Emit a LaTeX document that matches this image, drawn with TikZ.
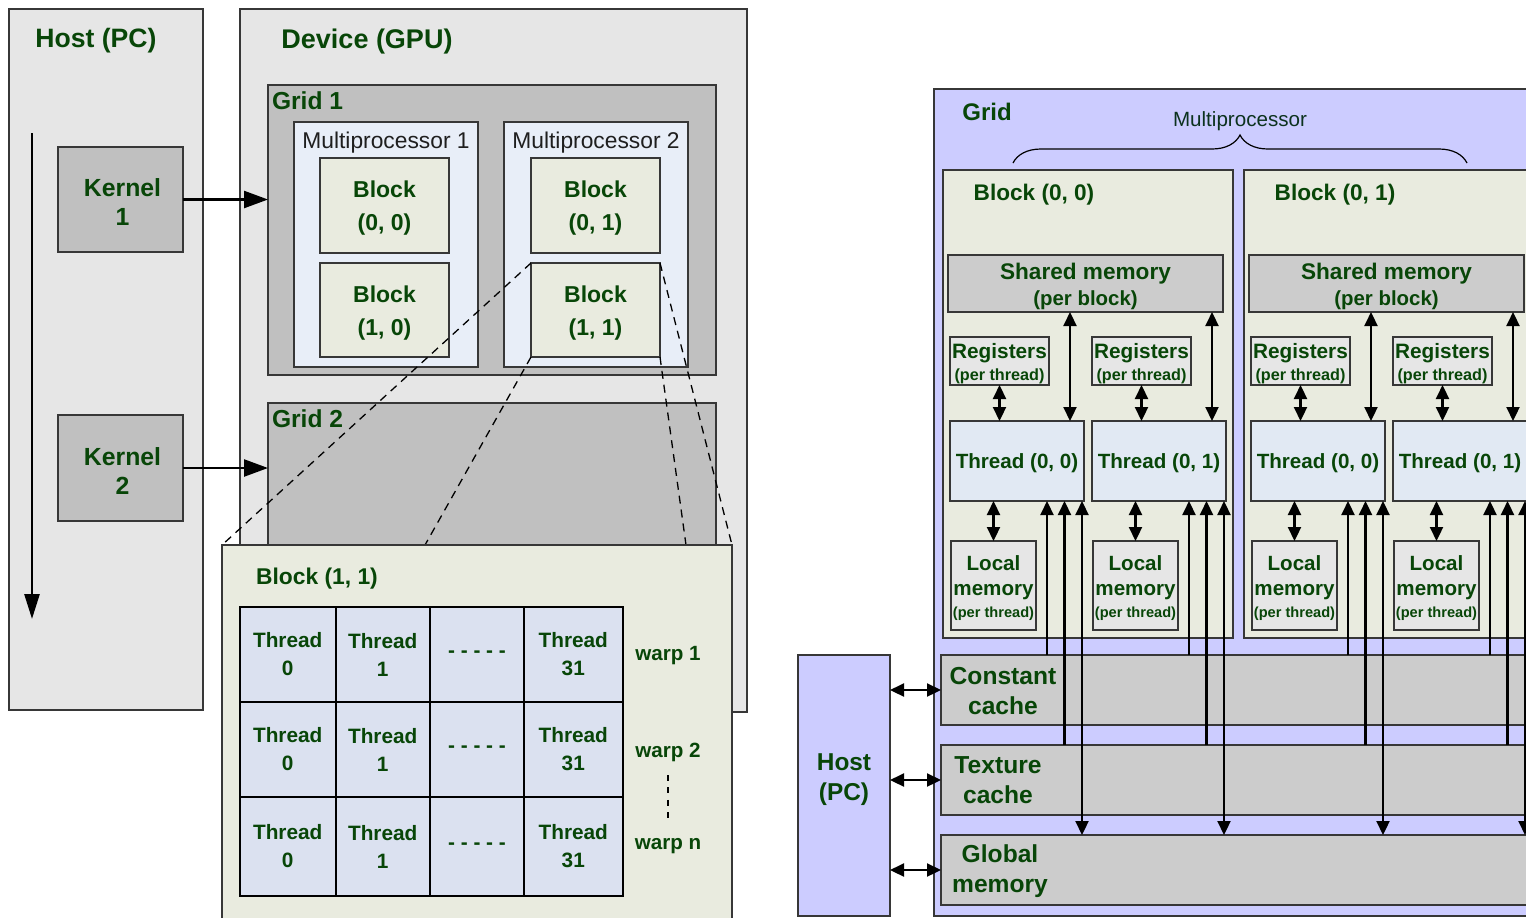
\documentclass[tikz,border=0pt]{standalone}
\usepackage{fontspec}
\setmainfont{Liberation Sans}
\usetikzlibrary{arrows.meta,fit,decorations.pathreplacing,calc}
\definecolor{tg}{RGB}{8,70,8}
\definecolor{mpg}{RGB}{12,50,30}
\definecolor{panelgray}{RGB}{230,230,230}
\definecolor{midgray}{RGB}{192,192,192}
\definecolor{mpblue}{RGB}{232,238,248}
\definecolor{beige}{RGB}{233,235,223}
\definecolor{cellblue}{RGB}{219,225,240}
\definecolor{lav}{RGB}{204,204,255}
\definecolor{memgray}{RGB}{204,204,204}
\definecolor{reggray}{RGB}{230,230,230}
\definecolor{thblue}{RGB}{225,233,243}
\definecolor{edge}{RGB}{55,55,55}
\newcommand\fsz[2]{\fontsize{#1}{#2}\selectfont}
\begin{document}
\begin{tikzpicture}[x=0.5pt,y=-0.5pt,
  box/.style={draw=edge,line width=0.8pt,inner sep=0pt,outer sep=0pt},
  t/.style={text=tg,align=center,inner sep=0pt,outer sep=0pt,yshift=-1.3pt},
  t0/.style={text=tg,align=center,inner sep=0pt,outer sep=0pt},
  cell/.style={draw=black,line width=1pt,fill=cellblue,inner sep=0pt,outer sep=0pt},
  ct/.style={t0,font=\bfseries\fsz{10.4}{14}},
  karr/.style={line width=1.2pt,-{Triangle[length=12pt,width=8.5pt]}},
  tlarr/.style={line width=1.3pt,-{Triangle[length=12.5pt,width=7.5pt]}},
  dl/.style={line width=0.65pt,dash pattern=on 4pt off 3pt},
  arr/.style={line width=1.1pt,-{Triangle[length=7pt,width=6.5pt]}},
  dbl/.style={line width=1.1pt,{Triangle[length=7pt,width=6.5pt]}-{Triangle[length=7pt,width=6.5pt]}}
]
\useasboundingbox (0,0) rectangle (1526,917);
\clip (0,0) rectangle (1526,917);
\fill[white] (0,0) rectangle (1526,917);

% ================= LEFT FIGURE =================
\node[box,fill=panelgray,fit={(9,9)(203,710)}] (hostL) {};
\node[box,fill=panelgray,fit={(240,9)(747,712)}] (dev) {};
\node[t,font=\bfseries\fsz{13.3}{16}] (hostLt) at (96,38) {Host (PC)};
\node[t,font=\bfseries\fsz{13.5}{16}] (devt) at (367,39) {Device (GPU)};

\coordinate (tlA) at (32,133);
\coordinate (tlB) at (32,619);
\draw[tlarr] (tlA) -- (tlB);

\node[box,fill=midgray,fit={(58,147)(183,252)}] (k1) {};
\node[t,font=\bfseries\fsz{12.4}{14.5},xshift=1pt] (k1t) at (k1.center) {Kernel\\1};
\node[box,fill=midgray,fit={(58,415)(183,521)}] (k2) {};
\node[t,font=\bfseries\fsz{12.4}{14.5},xshift=1pt] (k2t) at (k2.center) {Kernel\\2};

\node[box,fill=midgray,fit={(268,85)(716,375)}] (g1) {};
\node[t0,font=\bfseries\fsz{12.3}{14},anchor=west] (g1t) at (272,101) {Grid 1};
\node[box,fill=mpblue,fit={(294,122)(478,367)}] (mp1) {};
\node[box,fill=mpblue,fit={(504,122)(688,367)}] (mp2) {};
\node[font=\fsz{11.4}{13},text=black!88,inner sep=0pt,yshift=-1.3pt] (mp1t) at (386,140) {Multiprocessor 1};
\node[font=\fsz{11.4}{13},text=black!88,inner sep=0pt,yshift=-1.3pt] (mp2t) at (596,140) {Multiprocessor 2};
\foreach \nm/\xa/\ya/\xb/\yb/\lb in {b00/320/158/449/253/{(0, 0)},b10/320/263/449/357/{(1, 0)},b01/531/158/660/253/{(0, 1)},b11/531/263/660/357/{(1, 1)}}{
  \node[box,fill=beige,fit={(\xa,\ya)(\xb,\yb)}] (\nm) {};
  \node[t,font=\bfseries\fsz{11.5}{16.5}] (\nm t) at (\nm.center) {Block\\\lb};
}

\node[box,fill=midgray,fit={(268,403)(716,600)}] (g2) {};
\node[t0,font=\bfseries\fsz{12.3}{14},anchor=west] (g2t) at (272,419) {Grid 2};

\draw[karr] (k1.east) -- (k1.east -| g1.west);
\draw[karr] (k2.east) -- (k2.east -| g2.west);

\coordinate (zA) at (222,545);
\coordinate (zB) at (425,545);
\coordinate (zC) at (686,545);
\coordinate (zD) at (732,545);
\draw[dl] (b11.north west) -- (zA);
\draw[dl] (b11.south west) -- (zB);
\draw[dl] (b11.south east) -- (zC);
\draw[dl] (b11.north east) -- (zD);

\node[box,fill=beige,fit={(zA)(732,940)}] (zp) {};
\node[t,font=\bfseries\fsz{11.4}{13}] (zpt) at (317,576) {Block (1, 1)};

\foreach \r/\ya/\yb in {1/607/702,2/702/797,3/797/896}{
  \foreach \c/\xa/\xb/\txt in {1/240/335.5/{Thread\\0},2/335.5/430/{Thread\\1},3/430/524/{- - - - -},4/524/622.5/{Thread\\31}}{
    \node[cell,fit={(\xa,\ya)(\xb,\yb)}] (c\r\c) {};
    \node[ct] (c\r\c t) at (c\r\c.center) {\txt};
  }
}
\node[t,font=\bfseries\fsz{10.3}{12}] (w1) at (668,653) {warp 1};
\node[t,font=\bfseries\fsz{10.3}{12}] (w2) at (668,750) {warp 2};
\node[t,font=\bfseries\fsz{10.3}{12}] (wn) at (668,843) {warp n};
\coordinate (wdA) at (668,775);
\coordinate (wdB) at (668,819);
\draw[line width=1pt,dash pattern=on 3pt off 3.2pt] (wdA) -- (wdB);

% ================= RIGHT FIGURE =================
\node[box,fill=lav,fit={(934,89)(1560,916)}] (rg) {};
\node[t0,font=\bfseries\fsz{12}{14}] (rgt) at (987,112) {Grid};
\node[font=\fsz{10.3}{12},text=mpg,inner sep=0pt,yshift=-1.3pt] (mpt) at (1240,119) {Multiprocessor};
\coordinate (brA) at (1013,163);
\coordinate (brB) at (1467,163);
\draw[decorate,decoration={brace,amplitude=14pt},line width=0.6pt] (brA) -- (brB);

\node[box,fill=lav,fit={(798,655)(890,916)}] (hostR) {};
\node[t,font=\bfseries\fsz{12.2}{15}] (hostRt) at (844,777) {Host\\(PC)};

\node[box,fill=memgray,fit={(941,655)(1560,725)}] (CC) {};
\node[t0,font=\bfseries\fsz{12.3}{15}] (CCt) at (1003,691) {Constant\\cache};
\node[box,fill=memgray,fit={(941,745)(1560,815)}] (TC) {};
\node[t0,font=\bfseries\fsz{12.3}{15}] (TCt) at (998,780) {Texture\\cache};
\node[box,fill=memgray,fit={(941,835)(1560,905)}] (GM) {};
\node[t,font=\bfseries\fsz{12.3}{15}] (GMt) at (1000,869) {Global\\memory};

\draw[dbl] (CC.west -| hostR.east) -- (CC.west);
\draw[dbl] (TC.west -| hostR.east) -- (TC.west);
\draw[dbl] (GM.west -| hostR.east) -- (GM.west);

\foreach \i/\dx/\bl in {1/0/{Block (0, 0)},2/301/{Block (0, 1)}}{
  \begin{scope}[shift={(\dx,0)}]
    \node[box,fill=beige,fit={(943,170)(1233,638)}] (B\i) {};
    \node[t,font=\bfseries\fsz{11.3}{13}] (B\i t) at (1034,192) {\bl};
    \node[box,fill=memgray,fit={(948,255)(1223,312)}] (S\i) {};
    \node[t,font=\bfseries\fsz{11.3}{13}] (S\i t) at (S\i.center) {Shared memory\\{\fsz{10.2}{12}(per block)}};
    \foreach \j/\ex/\tl in {1/0/{Thread (0, 0)},2/142/{Thread (0, 1)}}{
      \begin{scope}[shift={(\ex,0)}]
        \node[box,fill=reggray,fit={(950,337)(1049,385)}] (R\i\j) {};
        \node[t,font=\bfseries\fsz{10.4}{10.8}] (R\i\j t) at (R\i\j.center) {Registers\\{\fsz{8.1}{10}(per thread)}};
        \node[box,fill=thblue,fit={(950,421)(1084,501)}] (T\i\j) {};
        \node[t,font=\bfseries\fsz{10.3}{12}] (T\i\j t) at (T\i\j.center) {\tl};
        \node[box,fill=reggray,fit={(951,541)(1036,630)}] (L\i\j) {};
        \node[t,font=\bfseries\fsz{10.3}{12.5}] (L\i\j t) at (L\i\j.center) {Local\\memory\\[-1.5pt]{\fsz{7.3}{9}(per thread)}};
        \coordinate (sx\i\j) at (1070,300);
        \coordinate (ua\i\j) at (1047,600);
        \coordinate (ub\i\j) at (1064.5,600);
        \coordinate (uc\i\j) at (1082,600);
        \draw[dbl] (R\i\j.south) -- (R\i\j.south |- T\i\j.north);
        \draw[dbl] (sx\i\j |- S\i.south) -- (sx\i\j |- T\i\j.north);
        \draw[dbl] (L\i\j.north |- T\i\j.south) -- (L\i\j.north);
        \draw[arr] (ua\i\j |- CC.north) -- (ua\i\j |- T\i\j.south);
        \draw[arr] (ub\i\j |- TC.north) -- (ub\i\j |- T\i\j.south);
        \draw[dbl] (uc\i\j |- T\i\j.south) -- (uc\i\j |- GM.north);
      \end{scope}
    }
  \end{scope}
}
\end{tikzpicture}
\end{document}
